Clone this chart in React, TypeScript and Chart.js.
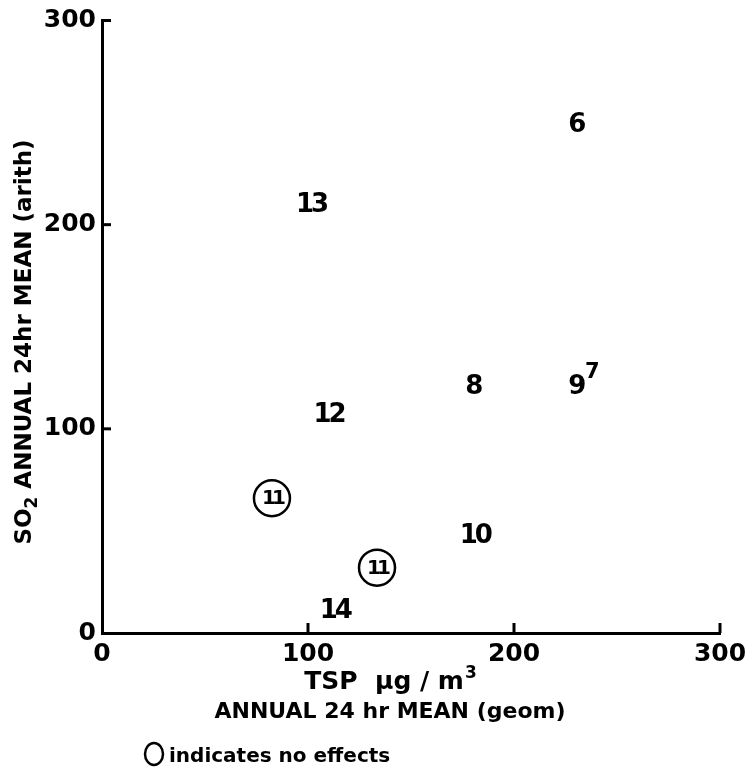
import React, { useEffect, useRef } from 'react';
import { Chart, registerables } from 'chart.js';

Chart.register(...registerables);

// ---- data ----
const effectLabels = ['6', '8', '9', '10', '12', '13', '14'];
const effectTSP = [230, 180, 230, 181, 110, 101.5, 113];
const effectSO2 = [249, 121, 121, 48, 107, 210, 11];

const noteLabels = ['7'];
const noteTSP = [238];
const noteSO2 = [128];

const noEffectLabels = ['11', '11'];
const noEffectTSP = [82.5, 133.5];
const noEffectSO2 = [66, 32];

const axisTicks = [0, 100, 200, 300];

const FONT = '"DejaVu Sans", "Noto Sans", sans-serif';

const annotate = {
  id: 'annotate',
  afterDatasetsDraw(chart: any) {
    const ctx = chart.ctx as CanvasRenderingContext2D;
    const { chartArea } = chart;
    const xs = chart.scales.x;
    const ys = chart.scales.y;
    ctx.save();
    ctx.fillStyle = '#000';
    ctx.strokeStyle = '#000';

    // inward tick marks
    ctx.lineWidth = 3;
    ctx.lineCap = 'butt';
    ys.ticks.forEach((t: any) => {
      if (t.value === 0) return;
      const y = ys.getPixelForValue(t.value);
      ctx.beginPath();
      ctx.moveTo(chartArea.left, y);
      ctx.lineTo(chartArea.left + 9, y);
      ctx.stroke();
    });
    xs.ticks.forEach((t: any) => {
      if (t.value === 0) return;
      const x = xs.getPixelForValue(t.value);
      ctx.beginPath();
      ctx.moveTo(x, chartArea.bottom);
      ctx.lineTo(x, chartArea.bottom - 10);
      ctx.stroke();
    });

    // point labels
    chart.data.datasets.forEach((ds: any, i: number) => {
      const meta = chart.getDatasetMeta(i);
      ctx.font = ds.labelFont;
      (ctx as any).letterSpacing = ds.labelSpacing || '0px';
      ctx.textAlign = 'center';
      ctx.textBaseline = 'middle';
      meta.data.forEach((el: any, j: number) => {
        const txt = ds.pointLabels[j];
        ctx.fillText(txt, el.x, el.y + 1);
      });
      (ctx as any).letterSpacing = '0px';
    });
    ctx.restore();
  },
  afterDraw(chart: any) {
    const ctx = chart.ctx as CanvasRenderingContext2D;
    ctx.save();
    ctx.fillStyle = '#000';
    ctx.strokeStyle = '#000';
    ctx.textBaseline = 'alphabetic';
    ctx.textAlign = 'left';

    // x title line 1 with superscript
    const f1 = `bold 25px ${FONT}`;
    const fSup = `bold 17px ${FONT}`;
    const partA = 'TSP  μg / m';
    ctx.font = f1;
    const wA = ctx.measureText(partA).width;
    ctx.font = fSup;
    const wS = ctx.measureText('3').width;
    const sx = 390 - (wA + wS) / 2;
    ctx.font = f1;
    ctx.fillText(partA, sx, 689);
    ctx.font = fSup;
    ctx.fillText('3', sx + wA + 1, 678);

    // x title line 2
    ctx.font = `bold 22px ${FONT}`;
    ctx.textAlign = 'center';
    ctx.fillText('ANNUAL 24 hr MEAN (geom)', 390, 718);

    // legend
    ctx.lineWidth = 2.5;
    ctx.beginPath();
    ctx.ellipse(154, 754, 9, 11, 0, 0, Math.PI * 2);
    ctx.stroke();
    ctx.textAlign = 'left';
    ctx.font = `bold 20px ${FONT}`;
    ctx.fillText('indicates no effects', 169, 762);

    // y title rotated with subscript
    ctx.translate(23, 342);
    ctx.rotate(-Math.PI / 2);
    const fy = `bold 23px ${FONT}`;
    const fySub = `bold 17px ${FONT}`;
    const p1 = 'SO';
    const p2 = '2';
    const p3 = ' ANNUAL 24hr MEAN (arith)';
    ctx.font = fy;
    const w1 = ctx.measureText(p1).width;
    const w3 = ctx.measureText(p3).width;
    ctx.font = fySub;
    const w2 = ctx.measureText(p2).width;
    const total = w1 + w2 + w3;
    const x0 = -total / 2;
    ctx.font = fy;
    ctx.fillText(p1, x0, 8);
    ctx.font = fySub;
    ctx.fillText(p2, x0 + w1, 14);
    ctx.font = fy;
    ctx.fillText(p3, x0 + w1 + w2, 8);
    ctx.restore();
  },
};

export default function App() {
  const ref = useRef<HTMLCanvasElement | null>(null);

  useEffect(() => {
    const canvas = ref.current;
    if (!canvas) return;
    const mk = (xs: number[], ys: number[]) => xs.map((x, i) => ({ x, y: ys[i] }));
    const chart = new Chart(canvas, {
      type: 'scatter',
      data: {
        datasets: [
          {
            label: 'effects',
            data: mk(effectTSP, effectSO2),
            pointRadius: 0,
            pointHoverRadius: 0,
            pointLabels: effectLabels,
            labelFont: `bold 26px ${FONT}`,
            labelSpacing: '-3px',
          } as any,
          {
            label: 'note',
            data: mk(noteTSP, noteSO2),
            pointRadius: 0,
            pointHoverRadius: 0,
            pointLabels: noteLabels,
            labelFont: `bold 21px ${FONT}`,
          } as any,
          {
            label: 'no effects',
            data: mk(noEffectTSP, noEffectSO2),
            pointStyle: 'circle',
            pointRadius: 18,
            pointHoverRadius: 18,
            pointBorderWidth: 2.5,
            pointBorderColor: '#000',
            pointBackgroundColor: 'rgba(0,0,0,0)',
            pointLabels: noEffectLabels,
            labelFont: `bold 20px ${FONT}`,
            labelSpacing: '-4px',
          } as any,
        ],
      },
      options: {
        animation: false,
        responsive: false,
        maintainAspectRatio: false,
        events: [],
        layout: { padding: { left: 0, top: 17, right: 29, bottom: 0 } },
        plugins: {
          legend: { display: false },
          tooltip: { enabled: false },
          title: { display: false },
        },
        scales: {
          x: {
            type: 'linear',
            min: 0,
            max: 300,
            afterBuildTicks: (s: any) => {
              s.ticks = axisTicks.map((v) => ({ value: v }));
            },
            afterFit: (s: any) => {
              s.height = 142;
              s.paddingLeft = 0;
              s.paddingRight = 0;
            },
            grid: { display: false, drawTicks: false },
            border: { display: true, color: '#000', width: 3 },
            ticks: {
              color: '#000',
              padding: 6,
              font: { family: FONT, size: 25, weight: 'bold' },
              maxRotation: 0,
              autoSkip: false,
            },
          },
          y: {
            type: 'linear',
            min: 0,
            max: 300,
            afterBuildTicks: (s: any) => {
              s.ticks = axisTicks.map((v) => ({ value: v }));
            },
            afterFit: (s: any) => {
              s.width = 102;
              s.paddingTop = 0;
              s.paddingBottom = 0;
            },
            grid: { display: false, drawTicks: false },
            border: { display: true, color: '#000', width: 3 },
            ticks: {
              color: '#000',
              padding: 6,
              font: { family: FONT, size: 25, weight: 'bold' },
              autoSkip: false,
            },
          },
        },
      } as any,
      plugins: [annotate],
    });
    return () => chart.destroy();
  }, []);

  return (
    <div style={{ position: 'fixed', left: 0, top: 0, width: 749, height: 775, background: '#fff' }}>
      <canvas ref={ref} width={749} height={775} style={{ width: 749, height: 775, display: 'block' }} />
    </div>
  );
}
